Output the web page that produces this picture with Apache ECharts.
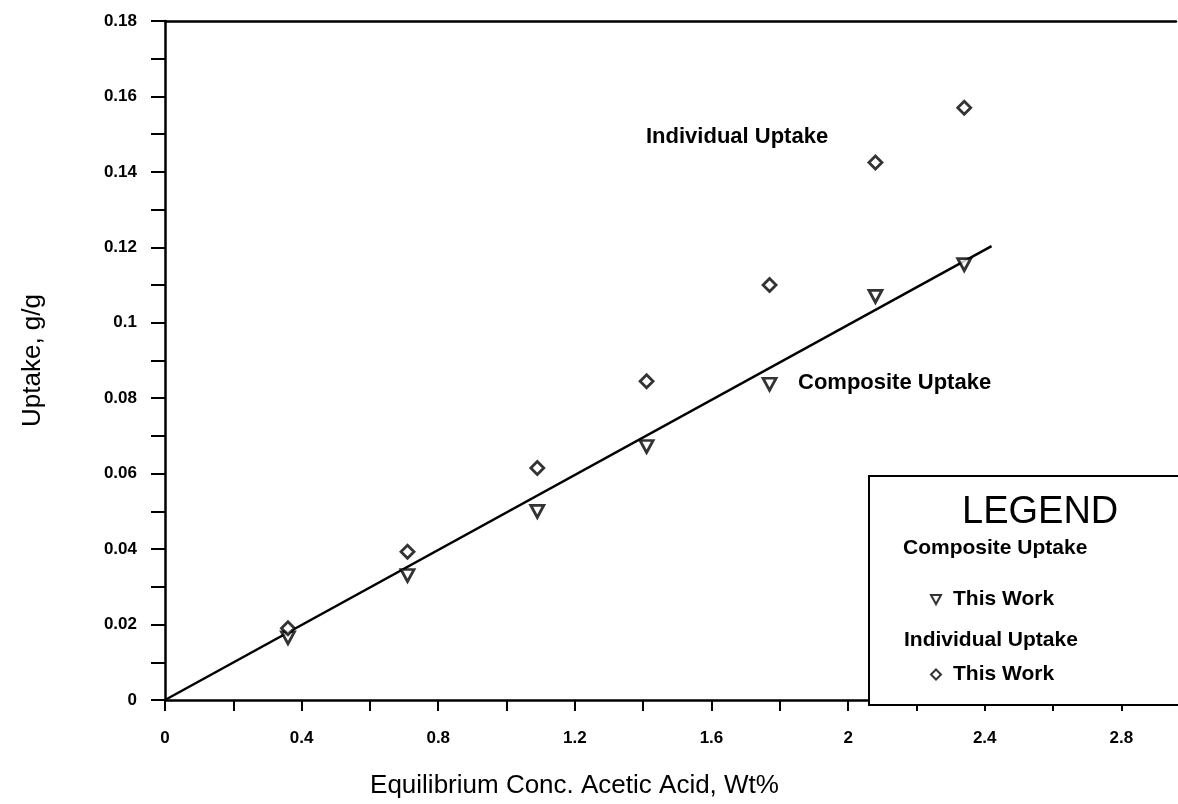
<!DOCTYPE html>
<html>
<head>
<meta charset="utf-8">
<script src="https://cdn.jsdelivr.net/npm/echarts@6/dist/echarts.min.js"></script>
<style>
html,body{margin:0;padding:0;background:#fff;}
#chart{width:1178px;height:804px;}
</style>
</head>
<body>
<div id="chart"></div>
<script>
// Data
const concX = [0.36, 0.71, 1.09, 1.41, 1.77, 2.08, 2.34];
const individualUptake = [0.019, 0.0393, 0.0615, 0.0845, 0.110, 0.1425, 0.157];
const compositeUptake = [0.0165, 0.033, 0.050, 0.0672, 0.0837, 0.107, 0.1154];
const fitX = [0, 2.42];
const fitY = [0, 0.1203];
const xTickValues = [0, 0.2, 0.4, 0.6, 0.8, 1.0, 1.2, 1.4, 1.6, 1.8, 2.0, 2.2, 2.4, 2.6, 2.8];
const xLabelValues = [0, 0.4, 0.8, 1.2, 1.6, 2.0, 2.4, 2.8];
const xTickLabels = ['0', '0.4', '0.8', '1.2', '1.6', '2', '2.4', '2.8'];
const yTickLabels = ['0', '0.02', '0.04', '0.06', '0.08', '0.1', '0.12', '0.14', '0.16', '0.18'];

const FONT = "'Liberation Sans', Arial, Helvetica, sans-serif";
const triDown = 'path://M0,0 L12,0 L6,11 Z';

const chart = echarts.init(document.getElementById('chart'), null, {renderer: 'canvas'});

function zip(xs, ys) { return xs.map((x, i) => [x, ys[i]]); }

const option = {
  backgroundColor: '#fff',
  animation: false,
  grid: {left: 165, top: 21, right: 2, height: 683, show: false},
  xAxis: [{
    type: 'value', min: 0, max: 2.96, interval: 0.2,
    name: 'Equilibrium Conc. Acetic Acid, Wt%',
    nameLocation: 'middle', nameGap: 73,
    nameTextStyle: {fontFamily: FONT, fontSize: 26, color: '#000', padding: [0, 192, 0, 0]},
    axisLine: {show: true, onZero: false, lineStyle: {color: '#000', width: 2.5}},
    axisTick: {show: true, length: 11, customValues: xTickValues, lineStyle: {color: '#000', width: 2}},
    splitLine: {show: false},
    axisLabel: {
      margin: 30, color: '#000', fontFamily: FONT, fontSize: 17, fontWeight: 'bold',
      customValues: xLabelValues,
      formatter: function (v) {
        const k = xLabelValues.findIndex(t => Math.abs(t - v) < 1e-6);
        return k >= 0 ? xTickLabels[k] : '';
      }
    }
  }, {
    type: 'value', min: 0, max: 2.96, position: 'top',
    axisLine: {show: true, onZero: false, lineStyle: {color: '#000', width: 2.5}},
    axisTick: {show: false}, axisLabel: {show: false}, splitLine: {show: false}
  }],
  yAxis: {
    type: 'value', min: 0, max: 0.18, interval: 0.01,
    name: 'Uptake, g/g',
    nameLocation: 'middle', nameGap: 119,
    nameTextStyle: {fontFamily: FONT, fontSize: 26, color: '#000'},
    axisLine: {show: true, onZero: false, lineStyle: {color: '#000', width: 2.5}},
    axisTick: {show: true, length: 14, lineStyle: {color: '#000', width: 2}},
    splitLine: {show: false},
    axisLabel: {
      margin: 28, color: '#000', fontFamily: FONT, fontSize: 17, fontWeight: 'bold',
      formatter: function (v) {
        const k = Math.round(v / 0.02);
        if (Math.abs(v - k * 0.02) < 1e-6 && k < yTickLabels.length) return yTickLabels[k];
        return '';
      }
    }
  },
  legend: [
    {
      data: ['Composite Uptake'], left: 925, top: 584, orient: 'vertical',
      itemWidth: 10, itemHeight: 10, z: 10,
      formatter: function () { return 'This Work'; },
      textStyle: {fontFamily: FONT, fontSize: 21, fontWeight: 'bold', color: '#000', padding: [0, 0, 0, 7]},
      selectedMode: false
    },
    {
      data: ['Individual Uptake'], left: 925, top: 659, orient: 'vertical',
      itemWidth: 10, itemHeight: 10, z: 10,
      formatter: function () { return 'This Work'; },
      textStyle: {fontFamily: FONT, fontSize: 21, fontWeight: 'bold', color: '#000', padding: [0, 0, 0, 7]},
      selectedMode: false
    }
  ],
  graphic: [
    {type: 'rect', left: 868, top: 475, z: 3,
     shape: {width: 330, height: 229},
     style: {fill: '#fff', stroke: '#000', lineWidth: 2}},
    {type: 'text', left: 962, top: 494, z: 5,
     style: {text: 'LEGEND', font: "38px " + FONT, fill: '#000'}},
    {type: 'text', left: 903, top: 538, z: 5,
     style: {text: 'Composite Uptake', font: "bold 21px " + FONT, fill: '#000'}},
    {type: 'text', left: 904, top: 630, z: 5,
     style: {text: 'Individual Uptake', font: "bold 21px " + FONT, fill: '#000'}},
    {type: 'text', left: 646, top: 126, z: 5,
     style: {text: 'Individual Uptake', font: "bold 22px " + FONT, fill: '#000'}},
    {type: 'text', left: 798, top: 372, z: 5,
     style: {text: 'Composite Uptake', font: "bold 22px " + FONT, fill: '#000'}}
  ],
  series: [
    {
      name: 'Fit', type: 'line', data: zip(fitX, fitY),
      showSymbol: false, symbol: 'none',
      lineStyle: {color: '#000', width: 2.5}, z: 2
    },
    {
      name: 'Composite Uptake', type: 'scatter', data: zip(concX, compositeUptake),
      symbol: triDown, symbolSize: [13, 12],
      itemStyle: {color: '#fff', borderColor: '#000', borderWidth: 2.8}, z: 4
    },
    {
      name: 'Individual Uptake', type: 'scatter', data: zip(concX, individualUptake),
      symbol: 'diamond', symbolSize: [13, 13],
      itemStyle: {color: '#fff', borderColor: '#000', borderWidth: 2.8}, z: 4
    }
  ]
};
chart.setOption(option);
</script>
</body>
</html>
